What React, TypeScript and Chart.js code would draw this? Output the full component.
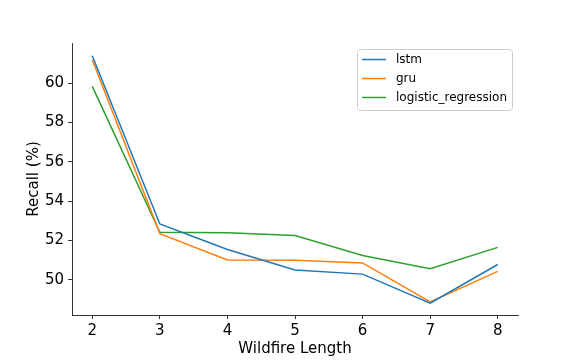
import React, { useEffect, useRef } from "react";
import { Chart, registerables } from "chart.js";

Chart.register(...registerables);

const lengths = [2, 3, 4, 5, 6, 7, 8];
const lstm = [61.39, 52.83, 51.53, 50.49, 50.28, 48.8, 50.77];
const gru = [61.19, 52.34, 51.0, 50.99, 50.85, 48.87, 50.42];
const logisticRegression = [59.83, 52.41, 52.39, 52.24, 51.23, 50.56, 51.64];
const seriesNames = ["lstm", "gru", "logistic_regression"];
const seriesColors = ["#1f77b4", "#ff7f0e", "#2ca02c"];
const yTicks = [50, 52, 54, 56, 58, 60];

const FONT = "'DejaVu Sans', sans-serif";

const legendPlugin = {
  id: "mplLegend",
  afterDraw(chart: any) {
    const ctx = chart.ctx;
    const x0 = 357.5, y0 = 49.5, w = 155, h = 61;
    ctx.save();
    ctx.fillStyle = "rgba(255,255,255,0.8)";
    ctx.strokeStyle = "#cccccc";
    ctx.lineWidth = 1;
    const r = 3;
    ctx.beginPath();
    ctx.moveTo(x0 + r, y0);
    ctx.lineTo(x0 + w - r, y0);
    ctx.quadraticCurveTo(x0 + w, y0, x0 + w, y0 + r);
    ctx.lineTo(x0 + w, y0 + h - r);
    ctx.quadraticCurveTo(x0 + w, y0 + h, x0 + w - r, y0 + h);
    ctx.lineTo(x0 + r, y0 + h);
    ctx.quadraticCurveTo(x0, y0 + h, x0, y0 + h - r);
    ctx.lineTo(x0, y0 + r);
    ctx.quadraticCurveTo(x0, y0, x0 + r, y0);
    ctx.closePath();
    ctx.fill();
    ctx.stroke();
    ctx.font = "12px " + FONT;
    ctx.textBaseline = "middle";
    ctx.textAlign = "left";
    chart.data.datasets.forEach((ds: any, i: number) => {
      const yy = 59.5 + i * 19;
      ctx.strokeStyle = ds.borderColor;
      ctx.lineWidth = 1.5;
      ctx.beginPath();
      ctx.moveTo(362, yy);
      ctx.lineTo(386, yy);
      ctx.stroke();
      ctx.fillStyle = "#000";
      ctx.fillText(ds.label, 396, yy);
    });
    ctx.restore();
  },
};

export default function App() {
  const ref = useRef<HTMLCanvasElement>(null);
  useEffect(() => {
    const canvas = ref.current!;
    const data = [lstm, gru, logisticRegression];
    const chart = new Chart(canvas, {
      type: "line",
      data: {
        datasets: data.map((vals, i) => ({
          label: seriesNames[i],
          data: lengths.map((x, j) => ({ x, y: vals[j] })),
          borderColor: seriesColors[i],
          backgroundColor: seriesColors[i],
          borderWidth: 1.5,
          pointRadius: 0,
          tension: 0,
          fill: false,
        })),
      },
      options: {
        responsive: false,
        animation: false,
        devicePixelRatio: 1,
        layout: { padding: { left: 0, top: 43, right: 58, bottom: 0 } },
        plugins: { legend: { display: false }, tooltip: { enabled: false } },
        scales: {
          x: {
            type: "linear",
            min: 1.7,
            max: 8.3,
            afterBuildTicks(scale: any) {
              scale.ticks = lengths.map((v) => ({ value: v }));
            },
            afterFit(scale: any) {
              scale.height = 45;
            },
            grid: { drawOnChartArea: false, drawTicks: true, tickLength: 4, color: "#000", lineWidth: 0.8 },
            border: { display: true, color: "#000", width: 0.8 },
            ticks: { color: "#000", font: { family: FONT, size: 15 }, padding: 3, maxRotation: 0 },
            title: { display: true, text: "Wildfire Length", color: "#000", font: { family: FONT, size: 15 }, padding: { top: 0, bottom: 2 } },
          },
          y: {
            type: "linear",
            min: 48.2,
            max: 62.04,
            afterBuildTicks(scale: any) {
              scale.ticks = yTicks.map((v) => ({ value: v }));
            },
            afterFit(scale: any) {
              scale.width = 72;
            },
            grid: { drawOnChartArea: false, drawTicks: true, tickLength: 4, color: "#000", lineWidth: 0.8 },
            border: { display: true, color: "#000", width: 0.8 },
            ticks: { color: "#000", font: { family: FONT, size: 15 }, padding: 4 },
            title: { display: true, text: "Recall (%)", color: "#000", font: { family: FONT, size: 15 }, padding: { top: 25, bottom: 0 } },
          },
        },
      },
      plugins: [legendPlugin],
    } as any);
    return () => chart.destroy();
  }, []);
  return (
    <canvas
      ref={ref}
      width={576}
      height={360}
      style={{ position: "fixed", left: 0, top: 0, width: 576, height: 360, background: "#fff" }}
    />
  );
}
